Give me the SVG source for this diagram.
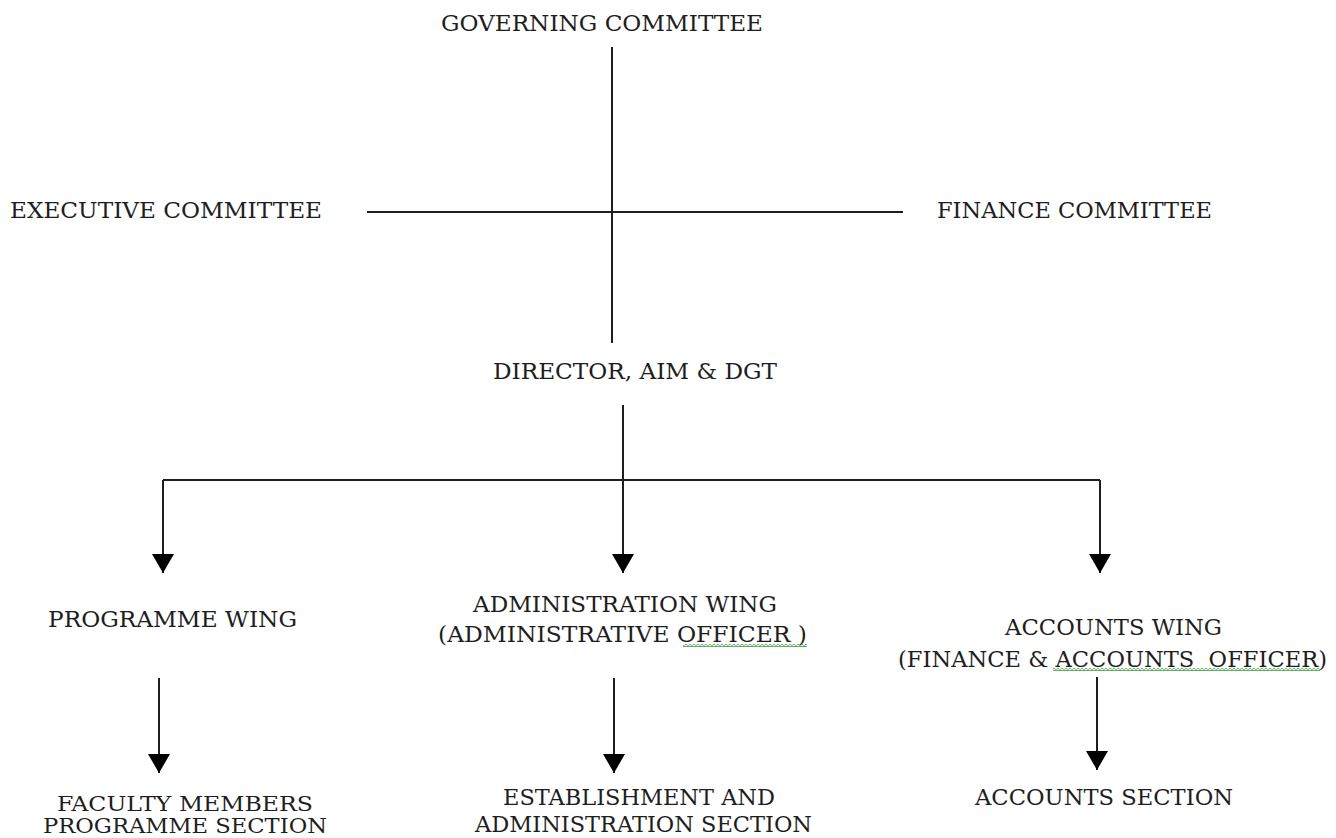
<svg xmlns="http://www.w3.org/2000/svg" width="1336" height="838" viewBox="0 0 1336 838">
<style>
text{font-family:"DejaVu Serif","Liberation Serif",serif;font-size:22px;fill:#1e1e1e;}
.tight{font-size:19.5px;}
.ln{stroke:#1e1e1e;stroke-width:2;fill:none;}
</style>
<defs>
<marker id="ah" viewBox="0 0 19 22" refX="19" refY="11" markerWidth="19" markerHeight="22" markerUnits="userSpaceOnUse" orient="auto">
<path d="M0,0 L19,11 L0,22 Z" fill="#000"/>
</marker>
<pattern id="squig" width="4" height="3" patternUnits="userSpaceOnUse">
<path d="M0,0.6 L2,2.4 L4,0.6" fill="none" stroke="#3a9a3a" stroke-width="1.2"/>
</pattern>
</defs>
<rect width="1336" height="838" fill="#fff"/>
<g id="connectors">
<path class="ln" d="M612,47 V343"/>
<path class="ln" d="M367,212 H903"/>
<path class="ln" d="M623,405 V573" marker-end="url(#ah)"/>
<path class="ln" d="M163,480 H1100"/>
<path class="ln" d="M163,480 V573" marker-end="url(#ah)"/>
<path class="ln" d="M1100,480 V573" marker-end="url(#ah)"/>
<path class="ln" d="M159,678 V773" marker-end="url(#ah)"/>
<path class="ln" d="M614,678 V773" marker-end="url(#ah)"/>
<path class="ln" d="M1097,677 V770" marker-end="url(#ah)"/>
</g>
<g id="governing"><text x="441" y="31" textLength="322" lengthAdjust="spacingAndGlyphs">GOVERNING COMMITTEE</text></g>
<g id="executive"><text x="10" y="218" textLength="312" lengthAdjust="spacingAndGlyphs">EXECUTIVE COMMITTEE</text></g>
<g id="finance"><text x="937" y="218" textLength="275" lengthAdjust="spacingAndGlyphs">FINANCE COMMITTEE</text></g>
<g id="director"><text x="493" y="379" textLength="284" lengthAdjust="spacingAndGlyphs">DIRECTOR, AIM &amp; DGT</text></g>
<g id="programme-wing"><text x="48" y="627" textLength="249" lengthAdjust="spacingAndGlyphs">PROGRAMME WING</text></g>
<g id="administration-wing">
<text x="473" y="612" textLength="304" lengthAdjust="spacingAndGlyphs">ADMINISTRATION WING</text>
<text x="438" y="642" textLength="369" lengthAdjust="spacingAndGlyphs">(ADMINISTRATIVE OFFICER )</text>
<rect x="683" y="644" width="124" height="3" fill="url(#squig)"/>
</g>
<g id="accounts-wing">
<text x="1005" y="635" textLength="217" lengthAdjust="spacingAndGlyphs">ACCOUNTS WING</text>
<text x="898" y="667" textLength="429" lengthAdjust="spacingAndGlyphs">(FINANCE &amp; ACCOUNTS&#160; OFFICER)</text>
<rect x="1053" y="668" width="267" height="3" fill="url(#squig)"/>
</g>
<g id="faculty">
<text class="tight" x="57" y="811" textLength="256" lengthAdjust="spacingAndGlyphs">FACULTY MEMBERS</text>
<text class="tight" x="43" y="833" textLength="284" lengthAdjust="spacingAndGlyphs">PROGRAMME SECTION</text>
</g>
<g id="establishment">
<text x="503" y="805" textLength="272" lengthAdjust="spacingAndGlyphs">ESTABLISHMENT AND</text>
<text x="475" y="832" textLength="337" lengthAdjust="spacingAndGlyphs">ADMINISTRATION SECTION</text>
</g>
<g id="accounts-section"><text x="975" y="805" textLength="258" lengthAdjust="spacingAndGlyphs">ACCOUNTS SECTION</text></g>
</svg>
